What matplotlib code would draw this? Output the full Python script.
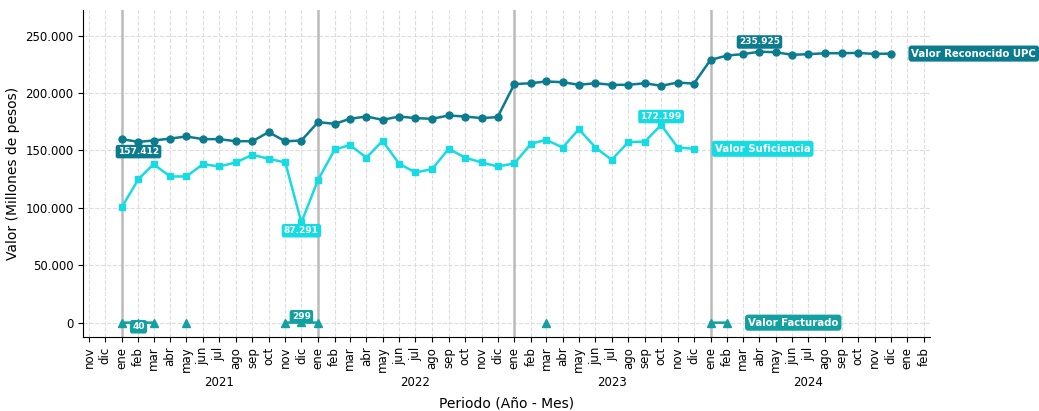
import matplotlib
matplotlib.use('Agg')
import matplotlib.pyplot as plt
import matplotlib.transforms as mtransforms
import numpy as np
import pandas as pd

# valores en millones de pesos, mensuales desde ene 2021
upc_months = pd.date_range('2021-01-01', '2024-12-01', freq='MS')
upc_values = [
    159800, 157412, 158600, 160300, 162100, 159800, 159800, 158000, 158000, 165900, 157900, 158600,
    174600, 173100, 177500, 179500, 176600, 179500, 178100, 177500, 180400, 179500, 178100, 179000,
    207700, 208500, 210000, 209400, 207100, 208500, 207100, 207100, 208500, 206200, 209100, 208100,
    228800, 232600, 233800, 235925, 235500, 233200, 233800, 234600, 234600, 234900, 234000, 234300,
]

suf_months = pd.date_range('2021-01-01', '2023-12-01', freq='MS')
suf_values = [
    100600, 125000, 138000, 127300, 127300, 138000, 136000, 139500, 146200, 142700, 139500, 87291,
    124400, 150800, 154600, 143800, 158300, 138300, 130800, 133700, 151400, 143800, 139500, 136000,
    138600, 155700, 159200, 152500, 168500, 152500, 141800, 157200, 157700, 172199, 152500, 151400,
]

fact_months = pd.date_range('2021-01-01', '2024-02-01', freq='MS')
fact_values = [
    0, 40, 0, np.nan, 0, np.nan, np.nan, np.nan, np.nan, np.nan, 0, 299,
    0, np.nan, np.nan, np.nan, np.nan, np.nan, np.nan, np.nan, np.nan, np.nan, np.nan, np.nan,
    np.nan, np.nan, 0, np.nan, np.nan, np.nan, np.nan, np.nan, np.nan, np.nan, np.nan, np.nan,
    0, 0,
]

mes_abbr = ['ene', 'feb', 'mar', 'abr', 'may', 'jun', 'jul', 'ago', 'sep', 'oct', 'nov', 'dic']
tick_months = pd.date_range('2020-11-01', '2025-02-01', freq='MS')
years = [2021, 2022, 2023, 2024]

c_upc = '#0b7b8e'
c_suf = '#17dbe2'
c_fact = '#13a0a0'


def fmt_miles(v):
    return f'{v:,.0f}'.replace(',', '.')


def label_point(ax, x, y, text, color, dy, size=6.5):
    ax.annotate(text, (x, y), xytext=(0, dy), textcoords='offset points',
                ha='center', va='center', fontsize=size, fontweight='bold', color='white',
                bbox=dict(boxstyle='round,pad=0.25', fc=color, ec='none'), zorder=6)


def end_label(ax, x, y, text, color):
    ax.annotate(text, (x, y), xytext=(15, 0), textcoords='offset points',
                ha='left', va='center', fontsize=7.3, fontweight='bold', color='white',
                bbox=dict(boxstyle='round,pad=0.3', fc=color, ec='none'), zorder=6)


def main():
    fig = plt.figure(figsize=(10.39, 4.11), dpi=100)
    ax = fig.add_axes([0.08, 0.18, 0.815, 0.795])

    for y in years:
        ax.axvline(pd.Timestamp(f'{y}-01-01'), color='#bbbbbb', lw=1.8, zorder=1)

    ax.plot(upc_months, upc_values, color=c_upc, marker='o', ms=5, lw=1.8, zorder=3)
    ax.plot(suf_months, suf_values, color=c_suf, marker='s', ms=5, lw=1.8, zorder=3)
    ax.plot(fact_months, fact_values, color=c_fact, marker='^', ms=5.5, lw=1.8, zorder=3)

    # maximos y minimos
    i = int(np.argmin(upc_values))
    label_point(ax, upc_months[i], upc_values[i], fmt_miles(upc_values[i]), c_upc, -7)
    i = int(np.argmax(upc_values))
    label_point(ax, upc_months[i], upc_values[i], fmt_miles(upc_values[i]), c_upc, 7)
    i = int(np.argmin(suf_values))
    label_point(ax, suf_months[i], suf_values[i], fmt_miles(suf_values[i]), c_suf, -6)
    i = int(np.argmax(suf_values))
    label_point(ax, suf_months[i], suf_values[i], fmt_miles(suf_values[i]), c_suf, 6)
    fv = np.array(fact_values, dtype=float)
    nz = np.where(fv > 0)[0]
    i = nz[np.argmin(fv[nz])]
    label_point(ax, fact_months[i], fv[i], fmt_miles(fv[i]), c_fact, -3)
    i = int(np.nanargmax(fv))
    label_point(ax, fact_months[i], fv[i], fmt_miles(fv[i]), c_fact, 4)

    end_label(ax, upc_months[-1], upc_values[-1], 'Valor Reconocido UPC', c_upc)
    end_label(ax, suf_months[-1], suf_values[-1], 'Valor Suficiencia', c_suf)
    end_label(ax, fact_months[-1], fact_values[-1], 'Valor Facturado', c_fact)

    ax.set_xticks(tick_months)
    ax.set_xticklabels([mes_abbr[d.month - 1] for d in tick_months], rotation=90, fontsize=8.5)
    ax.set_xlim(tick_months[0] - pd.Timedelta(days=11), tick_months[-1] + pd.Timedelta(days=11))

    ax.set_ylim(-12500, 272000)
    ax.set_yticks(np.arange(0, 250001, 50000))
    ax.set_yticklabels([fmt_miles(v) for v in np.arange(0, 250001, 50000)], fontsize=8.5)

    trans = mtransforms.blended_transform_factory(ax.transData, ax.transAxes)
    for y in years:
        ax.text(pd.Timestamp(f'{y}-07-01'), -0.138, str(y), transform=trans,
                ha='center', va='center', fontsize=8.5)

    ax.grid(True, ls='--', color='#dddddd', lw=0.8)
    ax.set_axisbelow(True)
    ax.spines['top'].set_visible(False)
    ax.spines['right'].set_visible(False)
    ax.set_ylabel('Valor (Millones de pesos)', fontsize=10)
    ax.set_xlabel('Periodo (Año - Mes)', fontsize=10, labelpad=17)

    fig.savefig('out.png', dpi=100)


if __name__ == '__main__':
    main()
